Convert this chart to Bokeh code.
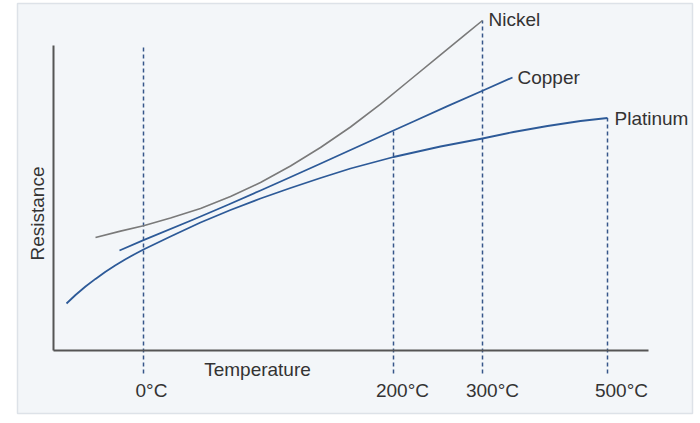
import numpy as np
from bokeh.plotting import figure
from bokeh.models import Range1d
from bokeh.core.properties import value
from bokeh.embed import file_html
from bokeh.resources import INLINE

# Schematic data (arbitrary units: temperature position, resistance)
nickel_x = [42, 67, 90, 117, 147, 177, 207, 237, 267, 297, 327, 357, 387, 412, 429]
nickel_y = [113, 119.4, 124.7, 132.5, 142, 154, 168, 184.5, 203, 223.5, 246.4, 271, 295.6, 316.1, 330]

copper_x = [66, 90, 140, 174, 207, 230, 264, 297, 340, 360, 394, 429, 459]
copper_y = [100, 110.3, 131, 145.5, 160, 170.2, 185.5, 200.5, 220, 229, 244.4, 259.8, 273]

platinum_x = [13, 22, 32, 42, 52, 62, 72, 81, 90, 117, 147, 177, 207, 237, 267, 297, 340, 387, 429, 460, 494, 527, 554]
platinum_y = [47, 55.5, 64, 71.6, 78.7, 85.2, 91.2, 96.3, 101, 114, 128, 140.5, 152, 162.5, 172.5, 182, 193.5, 204, 212, 218.5, 224.5, 229.5, 232.5]

tick_labels = ["0°C", "200°C", "300°C", "500°C"]
tick_pos = [90, 340, 429, 554]

series_names = ["Nickel", "Copper", "Platinum"]
axis_x_max = 595
axis_y_max = 305

FONT = "Liberation Sans"
TXT = "#333333"
BLUE = "#2d5a98"
GRAY = "#7a7a7a"
DASH = "#36568a"

p = figure(width=700, height=423, x_range=Range1d(-36, 639), y_range=Range1d(-63, 347),
           output_backend="svg", toolbar_location=None,
           x_axis_location=None, y_axis_location=None,
           min_border_left=17, min_border_right=8, min_border_top=3, min_border_bottom=10)
p.grid.visible = False
p.border_fill_color = "white"
p.background_fill_color = "#f3f6f9"
p.outline_line_color = "#dde2e8"
p.outline_line_width = 1.5

# dashed reference lines
tops = [axis_y_max,
        float(np.interp(tick_pos[1], copper_x, copper_y)),
        float(np.interp(tick_pos[2], nickel_x, nickel_y)),
        float(np.interp(tick_pos[3], platinum_x, platinum_y))]
p.segment(x0=tick_pos, y0=[-23] * 4, x1=tick_pos, y1=tops,
          line_color=DASH, line_width=1.5, line_dash="4 3")

# axes
p.line([0, 0], [axis_y_max, 0], line_color="#555555", line_width=2)
p.line([0, axis_x_max], [0, 0], line_color="#555555", line_width=2)

# curves
p.line(nickel_x, nickel_y, line_color=GRAY, line_width=1.6, line_join="round")
p.line(copper_x, copper_y, line_color=BLUE, line_width=1.8, line_join="round")
p.line(platinum_x, platinum_y, line_color=BLUE, line_width=1.8, line_join="round")

# series labels
ends_x = [nickel_x[-1], copper_x[-1], platinum_x[-1]]
ends_y = [nickel_y[-1], copper_y[-1], platinum_y[-1]]
p.text(x=ends_x, y=ends_y, text=series_names, x_offset=[6, 5, 7], y_offset=[-1, 0, 0],
       text_font=value(FONT), text_font_size="19px", text_color=TXT,
       text_align="left", text_baseline="middle")

# tick labels
p.text(x=tick_pos, y=[-40] * 4, text=tick_labels, x_offset=[8, 9, 10, 14],
       text_font=value(FONT), text_font_size="19px", text_color=TXT,
       text_align="center", text_baseline="middle")

# axis titles
p.text(x=[204], y=[-19], text=["Temperature"], text_font=value(FONT), text_font_size="19px",
       text_color=TXT, text_align="center", text_baseline="middle")
p.text(x=[-16], y=[137], text=["Resistance"], angle=np.pi / 2, text_font=value(FONT),
       text_font_size="19px", text_color=TXT, text_align="center", text_baseline="middle")

open("out.html", "w").write(file_html(p, INLINE))
